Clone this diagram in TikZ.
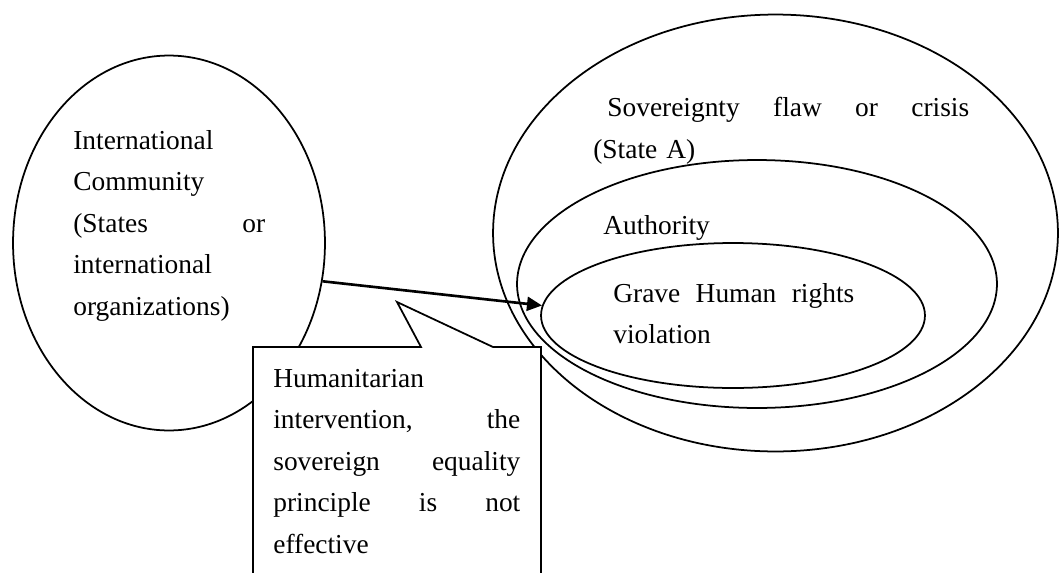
\documentclass[tikz,border=0pt]{standalone}
\usepackage{fontspec}
\setmainfont{Liberation Serif}
\usepackage{tikz}
\usetikzlibrary{positioning, arrows.meta, shapes.geometric}

\begin{document}
\begin{tikzpicture}[
			x=0.02cm, y=-0.02cm,
			bubble/.style={ellipse, draw, line width=1pt, inner sep=0pt},
			words/.style={anchor=north west, inner sep=0pt, align=left, font=\fontsize{15.6}{23.6}\selectfont},
			arrow/.style={line width=1.5pt, -{Triangle[length=0.3cm, width=0.28cm]}},
			]
			\useasboundingbox (0,0) rectangle (1059,572);
			
			% Nodes
			\node[bubble, minimum width=6.24cm, minimum height=7.5cm] (intl) at (169,243) {};
			\node[bubble, minimum width=11.3cm, minimum height=8.74cm] (state) at (775.5,233) {};
			\node[bubble, minimum width=9.6cm, minimum height=4.96cm] (authority) at (757,284) {};
			\node[bubble, minimum width=7.68cm, minimum height=2.9cm] (grave) at (733,315.5) {};
			
			% box with pointer
			\draw[line width=1pt, fill=white] (253,600) |- (421,347) -- (397,302) -- (493,347) -| (541,600);
			
			\node[words, text width=3.84cm] (intl text) at (73,130) {International\\Community\\(States \hfill or\\international\\organizations)};
			\node[words, text width=7.52cm] (state text) at (593,97) {\hspace*{0.28cm}Sovereignty \hfill flaw \hfill or \hfill crisis\\(State A)};
			\node[words] (authority text) at (603,215) {Authority};
			\node[words, text width=4.82cm] (grave text) at (613,283) {Grave \hfill Human \hfill rights\\violation};
			\node[words, text width=4.94cm] (note) at (273,369) {Humanitarian\\intervention, \hfill the\\sovereign \hfill equality\\principle \hfill is \hfill not\\effective};
			
			% Arrows
			\draw[arrow] (intl.-14.6) -- (grave.177);
			
		\end{tikzpicture}
\end{document}
